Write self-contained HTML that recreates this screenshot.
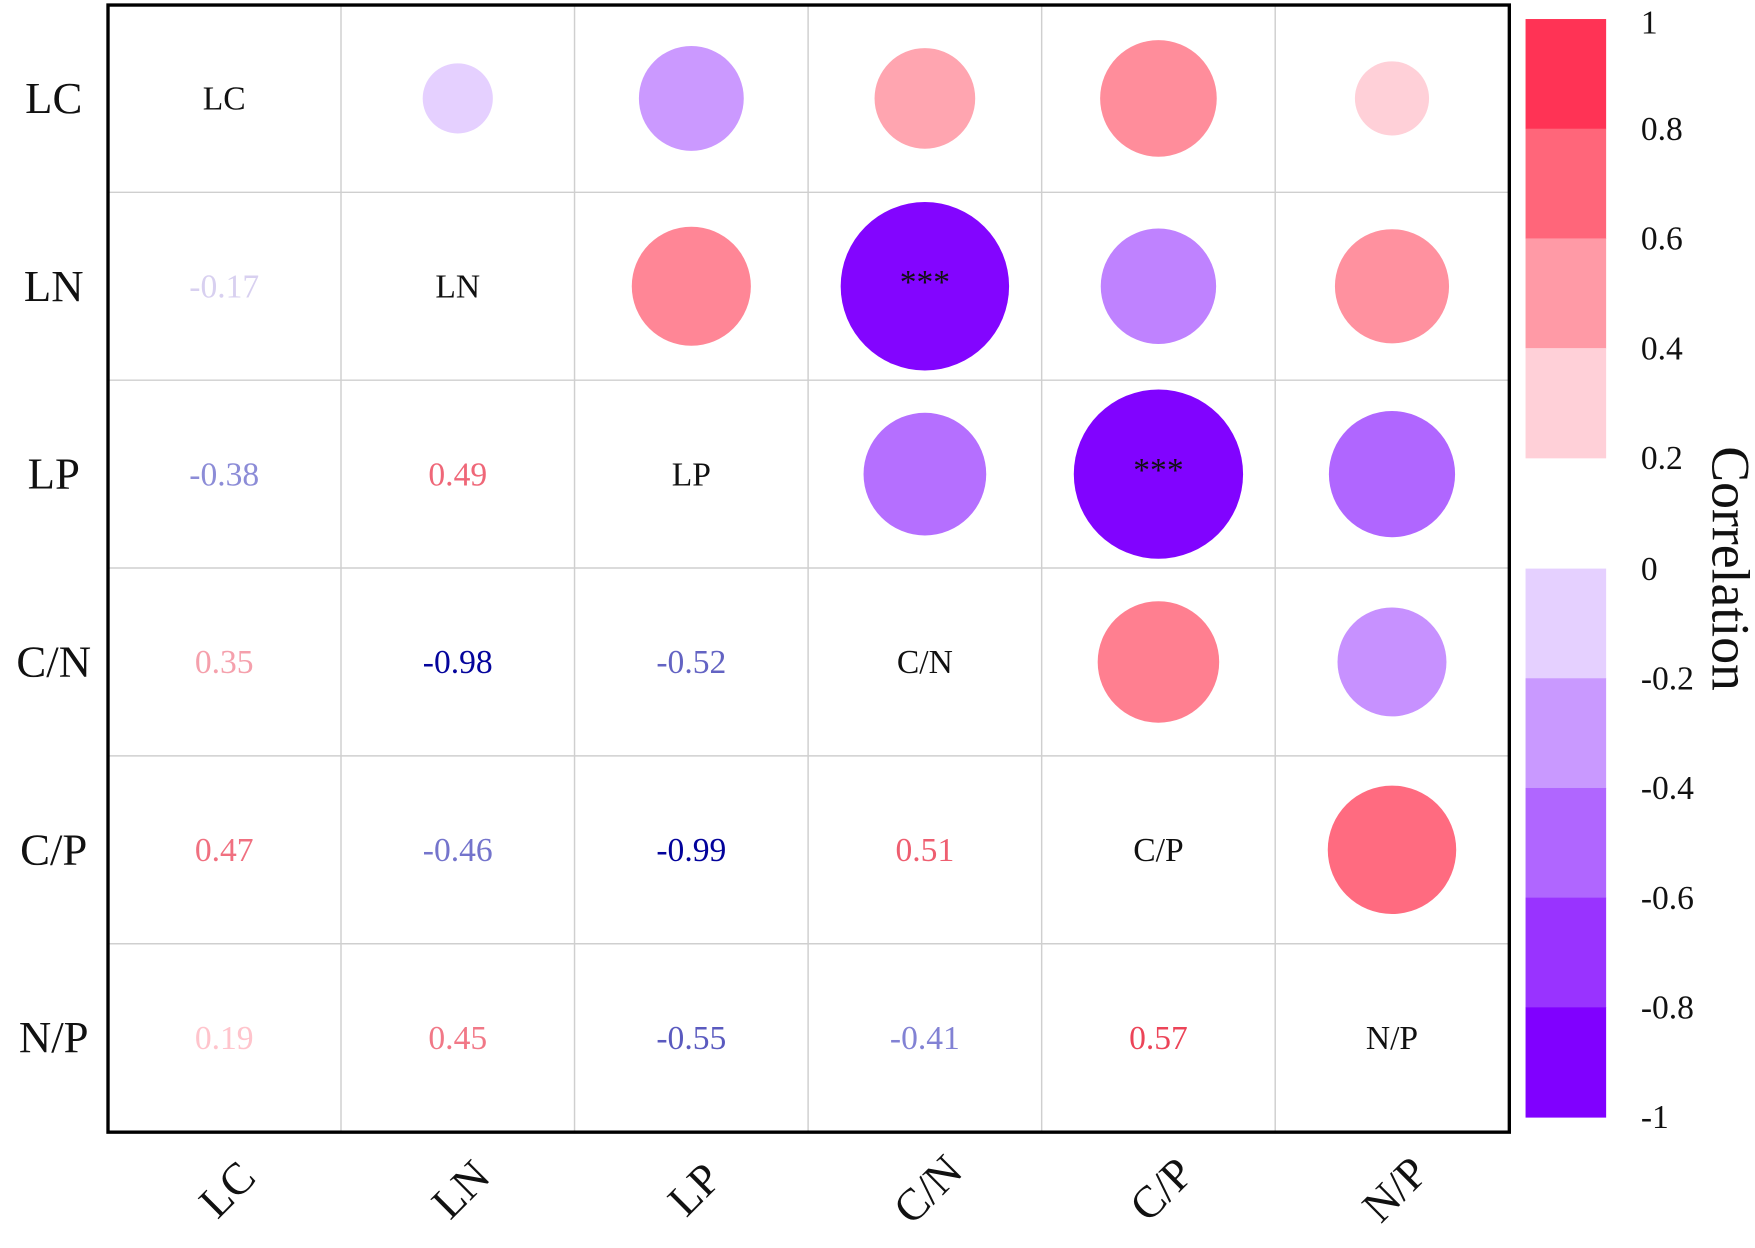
<!DOCTYPE html>
<html><head><meta charset="utf-8"><style>
html,body{margin:0;padding:0;background:#fff;}
svg{display:block;font-family:"Liberation Serif",serif;}
</style></head><body>
<svg id="chart" width="1755" height="1248" viewBox="0 0 1568 1115" preserveAspectRatio="none">
<g id="grid"></g>
<g id="cells"></g>
<g id="labels"></g>
<rect x="96.5" y="4.5" width="1252" height="1007" fill="none" stroke="#000" stroke-width="3"/>
<g id="cbar"></g>
<text x="0" y="0" transform="translate(1530,508) rotate(90)" text-anchor="middle" font-size="48" fill="#111">Correlation</text>
</svg>
<script>
const vars = ["LC","LN","LP","C/N","C/P","N/P"];
const corr = [
 [1, -0.17, -0.38, 0.35, 0.47, 0.19],
 [-0.17, 1, 0.49, -0.98, -0.46, 0.45],
 [-0.38, 0.49, 1, -0.52, -0.99, -0.55],
 [0.35, -0.98, -0.52, 1, 0.51, -0.41],
 [0.47, -0.46, -0.99, 0.51, 1, 0.57],
 [0.19, 0.45, -0.55, -0.41, 0.57, 1]
];
const sig = [
 ["","","","","",""],
 ["","","","***","",""],
 ["","","","","***",""],
 ["","","","","",""],
 ["","","","","",""],
 ["","","","","",""]
];
const cbTicks = ["1","0.8","0.6","0.4","0.2","0","-0.2","-0.4","-0.6","-0.8","-1"];
const cbPos = ["#ff3355","#ff667a","#ff9aa6","#ffd0d8"];
const cbNeg = ["#e5d0ff","#c999ff","#b066ff","#9933ff","#8000ff"];

const NS="http://www.w3.org/2000/svg";
const X0=96, W=1252, Y0=4, H=1007, n=vars.length;
const cw=W/n, ch=H/n;
const cx=i=>X0+cw*(i+0.5), cy=j=>Y0+ch*(j+0.5);
const rad=v=>76*Math.sqrt(Math.abs(v));
function hx(c){return [parseInt(c.slice(1,3),16),parseInt(c.slice(3,5),16),parseInt(c.slice(5,7),16)];}
function interp(stops,v){
 for(let k=0;k<stops.length-1;k++){const [a,ca]=stops[k],[b,cb]=stops[k+1];
  if(v>=a&&v<=b){const t=(v-a)/(b-a),A=hx(ca),B=hx(cb);return "rgb("+A.map((x,i)=>Math.round(x+(B[i]-x)*t)).join(",")+")";}}
 return v<stops[0][0]?stops[0][1]:stops[stops.length-1][1];
}
const fillStops=[[-1,"#8000ff"],[-0.8,"#9933ff"],[-0.55,"#b066ff"],[-0.4,"#c994ff"],[-0.17,"#e5d0ff"],[0,"#f3e8ff"],[0.01,"#ffe5ea"],[0.19,"#ffd0d8"],[0.35,"#ffa5b0"],[0.47,"#ff8d9b"],[0.57,"#ff6b80"],[1,"#ff2a4d"]];
const textStops=[[-1,"#00009a"],[-0.55,"#5a5abf"],[-0.4,"#8585d5"],[-0.17,"#d8d0f0"],[0,"#eee"],[0.01,"#ffe0e4"],[0.19,"#ffc4cc"],[0.35,"#f5a0ac"],[0.47,"#f07080"],[0.57,"#ec4458"],[1,"#e00020"]];
function el(tag,attrs,parent,txt){const e=document.createElementNS(NS,tag);for(const k in attrs)e.setAttribute(k,attrs[k]);if(txt!==undefined)e.textContent=txt;parent.appendChild(e);return e;}

const grid=document.getElementById('grid');
for(let i=1;i<n;i++){
 const l1=el('line',{x1:X0+cw*i,x2:X0+cw*i,y1:Y0,y2:Y0+H,stroke:"#cfcfcf","stroke-width":1.3},grid);
 
 
 const l2=el('line',{x1:X0,x2:X0+W,y1:Y0+ch*i,y2:Y0+ch*i,stroke:"#cfcfcf","stroke-width":1.3},grid);
 
 
}
const cells=document.getElementById('cells');
for(let r=0;r<n;r++)for(let c=0;c<n;c++){
 const v=corr[r][c];
 if(r===c){
  const t=el('text',{x:cx(c),y:cy(r)+10,"text-anchor":"middle","font-size":30,fill:"#111"},cells,vars[r]);
  
  
 } else if(c>r){
  const ci=el('circle',{cx:cx(c),cy:cy(r),r:rad(v),fill:interp(fillStops,v)},cells);
  
  
  if(sig[r][c]){
   const s=el('text',{x:cx(c),y:cy(r)+6,"text-anchor":"middle","font-size":30,fill:"#111"},cells,sig[r][c]);
   
   
  }
 } else {
  const t=el('text',{x:cx(c),y:cy(r)+10,"text-anchor":"middle","font-size":30,fill:interp(textStops,v)},cells,v.toFixed(2));
  
  
 }
}
const labels=document.getElementById('labels');
for(let i=0;i<n;i++){
 const t=el('text',{x:48,y:cy(i)+13,"text-anchor":"middle","font-size":40,fill:"#111"},labels,vars[i]);
 
 
 const t2=el('text',{x:0,y:0,transform:`translate(${cx(i)+12},${1072}) rotate(-45)`,"text-anchor":"middle","font-size":40,fill:"#111"},labels,vars[i]);
 
 
}
const cbar=document.getElementById('cbar');
const CBX=1363,CBW=72,bh=98;
const yv=v=>v>=0?17+(1-v)*490:508+(-v)*490;
cbPos.forEach((col,k)=>{
 const r=el('rect',{x:CBX,y:17+k*bh,width:CBW,height:bh+0.5,fill:col},cbar);
 
 
});
cbNeg.forEach((col,k)=>{
 const r=el('rect',{x:CBX,y:508+k*bh,width:CBW,height:bh+0.5,fill:col},cbar);
 
 
});
cbTicks.forEach(s=>{
 const v=parseFloat(s);
 const y=(v===1?20:v===0?508:yv(v));
 const t=el('text',{x:1466,y:y+10,"font-size":30,fill:"#111"},cbar,s);
 
 
});
</script>
</body></html>
